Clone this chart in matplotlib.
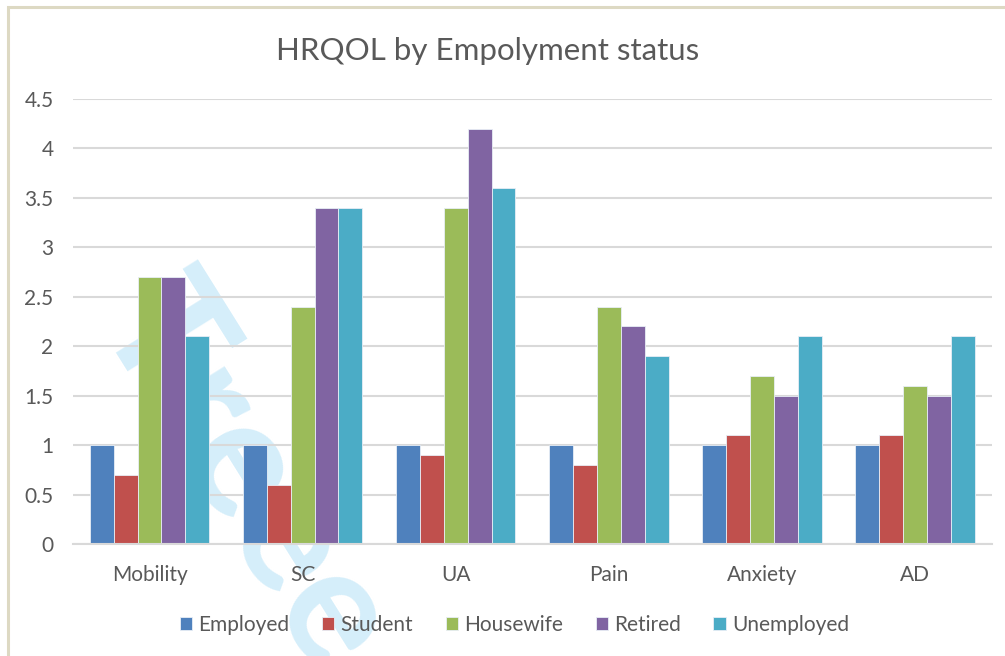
import matplotlib.pyplot as plt
import numpy as np
from matplotlib.patches import Rectangle

# Mean scores per HRQOL dimension for each employment group
dimensions = ['Mobility', 'SC', 'UA', 'Pain', 'Anxiety', 'AD']
groups = ['Employed', 'Student', 'Housewife', 'Retired', 'Unemployed']
employed = [1, 1, 1, 1, 1, 1]
student = [0.7, 0.6, 0.9, 0.8, 1.1, 1.1]
housewife = [2.7, 2.4, 3.4, 2.4, 1.7, 1.6]
retired = [2.7, 3.4, 4.2, 2.2, 1.5, 1.5]
unemployed = [2.1, 3.4, 3.6, 1.9, 2.1, 2.1]
colors = ['#4F81BD', '#C0504D', '#9BBB59', '#8064A2', '#4BACC6']

plt.rcParams['font.family'] = ['Lato', 'DejaVu Sans']
text_color = '#595959'

fig = plt.figure(figsize=(10.05, 6.56), dpi=100)
ax = fig.add_axes([0.0726, 0.1707, 0.914, 0.6784])

# chart border
fig.patches.append(Rectangle((8 / 1005, -0.1), 1.2, (656 - 7) / 656 + 0.1,
                             transform=fig.transFigure, fill=False,
                             edgecolor='#DDD9C3', linewidth=2.2, zorder=0))

x = np.arange(len(dimensions))
width = 0.156
series = [employed, student, housewife, retired, unemployed]
for i, (vals, name, c) in enumerate(zip(series, groups, colors)):
    ax.bar(x + (i - 2) * width, vals, width, color=c, label=name,
           edgecolor='#E8EEF6', linewidth=0.6, zorder=3)

# faint watermark behind the bars
ax.text(0.135, 0.645, 'Treee', transform=ax.transAxes, rotation=-58,
        rotation_mode='anchor', fontsize=118, fontweight='bold',
        color='#D5EEFA', ha='left', va='top', zorder=0, clip_on=False)

ax.set_xlim(-0.5, len(dimensions) - 0.5)
ax.set_ylim(0, 4.5)
ax.set_yticks(np.arange(0, 4.51, 0.5))
ax.set_yticklabels(['0', '0.5', '1', '1.5', '2', '2.5', '3', '3.5', '4', '4.5'])
ax.set_xticks(x)
ax.set_xticklabels(dimensions)
ax.tick_params(axis='both', length=0, labelsize=15, colors=text_color)
ax.tick_params(axis='y', pad=14)
ax.tick_params(axis='x', pad=15)
ax.yaxis.grid(True, color='#D9D9D9', linewidth=1.5, zorder=1)
ax.set_axisbelow(True)
for side in ['top', 'right', 'left']:
    ax.spines[side].set_visible(False)
ax.spines['bottom'].set_color('#D9D9D9')
ax.spines['bottom'].set_linewidth(1.5)
ax.spines['bottom'].set_zorder(4)

fig.text(0.485, 0.923, 'HRQOL by Empolyment status', ha='center', va='center',
         fontsize=22.5, color=text_color)

fig.legend(loc='center', bbox_to_anchor=(0.512, 0.048), ncol=5, frameon=False,
           fontsize=15, handlelength=0.6, handleheight=0.6, handletextpad=0.3,
           columnspacing=1.55, labelcolor=text_color)

fig.savefig('out.png', dpi=100)
